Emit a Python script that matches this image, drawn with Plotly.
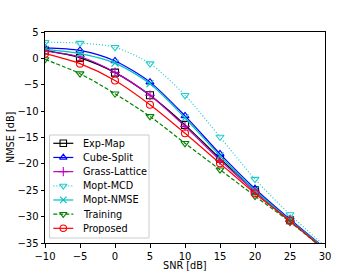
import plotly.graph_objects as go

snr = [-10, -5, 0, 5, 10, 15, 20, 25, 30]

exp_map = [1.5, 0.1, -2.7, -7.0, -12.6, -19.0, -25.0, -30.7, -36.2]
cube_split = [2.0, 1.5, -0.5, -4.5, -10.9, -18.1, -24.7, -30.5, -36.0]
grass_lattice = [1.35, 0.3, -2.65, -7.0, -12.9, -19.3, -25.3, -30.9, -36.3]
mopt_mcd = [3.05, 2.9, 2.1, -1.0, -7.0, -14.9, -22.9, -29.6, -35.6]
mopt_nmse = [1.7, 0.9, -0.9, -4.8, -11.3, -18.5, -25.0, -30.7, -36.1]
training = [-0.2, -2.9, -6.7, -11.0, -16.1, -21.1, -26.1, -31.0, -36.4]
proposed = [0.9, -1.0, -4.2, -8.8, -14.2, -19.9, -25.6, -30.8, -36.3]

names = ["Exp-Map", "Cube-Split", "Grass-Lattice", "Mopt-MCD", "Mopt-NMSE", "Training", "Proposed"]
values = [exp_map, cube_split, grass_lattice, mopt_mcd, mopt_nmse, training, proposed]
colors = ["black", "#0000ff", "#bf00bf", "#22cccc", "#00bfbf", "#008000", "#ff0000"]
dashes = ["solid", "solid", "solid", "1px,2px", "solid", "4px,2px", "solid"]
symbols = ["square-open", "triangle-up-open", "cross-thin-open", "triangle-down-open",
           "x-thin-open", "triangle-down-open", "circle-open"]

fig = go.Figure()
for name, vals, color, dash, sym in zip(names, values, colors, dashes, symbols):
    fig.add_trace(go.Scatter(
        x=snr, y=vals, name=name, mode="lines+markers", showlegend=False,
        line=dict(color=color, width=1.2, dash=dash, shape="spline", smoothing=0.8),
        marker=dict(symbol=sym, size=7, color=color, line=dict(color=color, width=1.1)),
    ))

# manual legend (matplotlib-like compact layout) on a hidden overlay axis [0,1]x[0,1]
W, H = 280.0, 211.0
box_x0, box_x1 = 4.5 / W, 104 / W
box_y0, box_y1 = 5 / H, 108 / H
step = 14.17 / H
y_first = (243 - 143.3) / H
lx0, lx1, lxm, tx = 8.3 / W, 28.3 / W, 18.3 / W, 35.5 / W

fig.add_shape(type="rect", xref="x2", yref="y2", x0=box_x0, x1=box_x1, y0=box_y0, y1=box_y1,
              line=dict(color="#cccccc", width=1), fillcolor="rgba(255,255,255,0.8)", layer="below")

for i, (name, color, dash, sym) in enumerate(zip(names, colors, dashes, symbols)):
    yy = y_first - i * step
    fig.add_trace(go.Scatter(
        x=[lx0, lxm, lx1], y=[yy, yy, yy], mode="lines", xaxis="x2", yaxis="y2",
        showlegend=False, hoverinfo="skip",
        line=dict(color=color, width=1.2, dash=dash),
    ))
    fig.add_trace(go.Scatter(
        x=[lxm], y=[yy], mode="markers", xaxis="x2", yaxis="y2",
        showlegend=False, hoverinfo="skip",
        marker=dict(symbol=sym, size=6.5, color=color, line=dict(color=color, width=1.1)),
    ))
    fig.add_annotation(x=tx, y=yy, xref="x2", yref="y2", text=name, showarrow=False,
                       xanchor="left", yanchor="middle",
                       font=dict(family="DejaVu Sans", size=9.7, color="black"))

# axis titles placed like the reference
fig.add_annotation(x=0.5, y=(243 - 265.0) / H, xref="paper", yref="paper", text="SNR [dB]",
                   showarrow=False, xanchor="center", yanchor="middle", borderpad=0,
                   font=dict(family="DejaVu Sans", size=9.7, color="black"))
fig.add_annotation(x=(10.5 - 45) / W, y=0.5, xref="paper", yref="paper", text="NMSE [dB]",
                   showarrow=False, xanchor="center", yanchor="middle", textangle=-90, borderpad=0,
                   font=dict(family="DejaVu Sans", size=9.7, color="black"))

axis_common = dict(
    showline=True, linecolor="black", linewidth=1, mirror=True,
    ticks="outside", ticklen=3.5, tickwidth=1, tickcolor="black",
    showgrid=False, zeroline=False, automargin=False,
    tickfont=dict(family="DejaVu Sans", size=10, color="black"),
)

fig.update_layout(
    width=362, height=273,
    margin=dict(l=45, r=37, t=32, b=30),
    paper_bgcolor="white", plot_bgcolor="white",
    font=dict(family="DejaVu Sans", size=10, color="black"),
    xaxis=dict(range=[-10, 30], tickvals=[-10, -5, 0, 5, 10, 15, 20, 25, 30],
               ticktext=["\u221210", "\u22125", "0", "5", "10", "15", "20", "25", "30"],
               **axis_common),
    yaxis=dict(range=[-35, 5], tickvals=[5, 0, -5, -10, -15, -20, -25, -30, -35],
               ticktext=["5", "0", "\u22125", "\u221210", "\u221215", "\u221220", "\u221225", "\u221230", "\u221235"],
               **axis_common),
    xaxis2=dict(overlaying="x", range=[0, 1], visible=False, fixedrange=True),
    yaxis2=dict(overlaying="y", range=[0, 1], visible=False, fixedrange=True),
    showlegend=False,
)

fig.write_html("out.html", config={"displayModeBar": False},
               post_script="document.body.style.margin='0';")
